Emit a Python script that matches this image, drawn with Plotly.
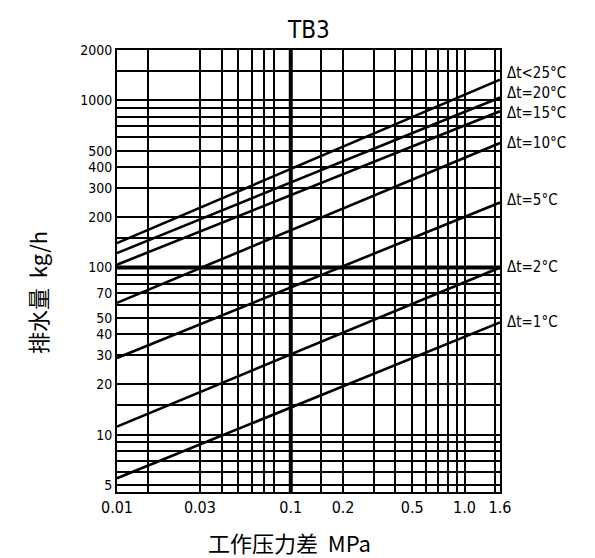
import math
import plotly.graph_objects as go

# ---- data ----
pressure = [0.01, 1.6]  # MPa, ends of each straight line on log-log axes
series_names = ["Δt<25°C", "Δt=20°C", "Δt=15°C", "Δt=10°C", "Δt=5°C", "Δt=2°C", "Δt=1°C"]
dt25 = [140, 1330]
dt20 = [122, 1040]
dt15 = [104, 860]
dt10 = [61.5, 556]
dt5 = [28.8, 245]
dt2 = [11.2, 100]
dt1 = [5.5, 47]
series_values = [dt25, dt20, dt15, dt10, dt5, dt2, dt1]
label_shift = [7, 4, -2, 0, 2, 1, 0]  # px nudges of the right-hand labels

x_grid = [0.01, 0.015, 0.03, 0.04, 0.05, 0.06, 0.07, 0.08, 0.1, 0.15, 0.2, 0.3,
          0.4, 0.5, 0.6, 0.7, 0.8, 0.9, 1.0, 1.5, 1.6]
x_labels = {0.01: "0.01", 0.03: "0.03", 0.1: "0.1", 0.2: "0.2", 0.5: "0.5",
            1.0: "1.0", 1.6: "1.6"}
y_grid = [5, 6, 7, 8, 9, 10, 15, 20, 30, 40, 50, 60, 70, 80, 90, 100, 150, 200,
          300, 400, 500, 600, 700, 800, 900, 1000, 1500, 2000]
y_labels = {5: "5", 10: "10", 20: "20", 30: "30", 40: "40", 50: "50", 70: "70",
            100: "100", 200: "200", 300: "300", 400: "400", 500: "500",
            1000: "1000", 2000: "2000"}
thick_x = [0.1]
thick_y = [100]

FONT = "DejaVu Sans Condensed, Liberation Sans Narrow, Arial, sans-serif"
CJK = "Noto Sans CJK SC, sans-serif"

fig = go.Figure()
for name, vals, sh in zip(series_names, series_values, label_shift):
    fig.add_trace(go.Scatter(x=pressure, y=vals, mode="lines", name=name,
                             line=dict(color="black", width=2.6),
                             showlegend=False, hoverinfo="skip"))
    # label at the right end of each line (y on a log axis takes log10)
    fig.add_annotation(x=1.0, y=math.log10(vals[-1]),
                       xref="paper", yref="y", text=name,
                       showarrow=False, xanchor="left", xshift=5, yshift=sh,
                       font=dict(family=FONT, size=15, color="black"))

for xv in thick_x:
    fig.add_shape(type="line", xref="x", yref="paper", x0=xv, x1=xv, y0=0, y1=1,
                  line=dict(color="black", width=4), layer="below")
for yv in thick_y:
    fig.add_shape(type="line", xref="paper", yref="y", x0=0, x1=1, y0=yv, y1=yv,
                  line=dict(color="black", width=4), layer="below")

fig.update_xaxes(type="log", range=[-2, math.log10(1.6)], tickmode="array",
                 tickvals=x_grid, ticktext=[x_labels.get(v, "") for v in x_grid],
                 showgrid=True, gridcolor="black", gridwidth=1.6,
                 showline=True, linecolor="black", linewidth=2, mirror=True,
                 ticks="", tickfont=dict(family=FONT, size=16, color="black"))
fig.update_yaxes(type="log", range=[0.658, 3.301], tickmode="array",
                 tickvals=y_grid, ticktext=[y_labels.get(v, "") for v in y_grid],
                 showgrid=True, gridcolor="black", gridwidth=1.6,
                 showline=True, linecolor="black", linewidth=2, mirror=True,
                 ticks="", tickfont=dict(family=FONT, size=14, color="black"))

fig.add_annotation(text="TB3", xref="paper", yref="paper", x=0.5, y=1.0,
                   yanchor="bottom", yshift=4, showarrow=False,
                   font=dict(family=FONT, size=24, color="black"))
fig.add_annotation(text="工作压力差  MPa", xref="paper", yref="paper", x=0.45, y=0,
                   yanchor="top", yshift=-32, showarrow=False,
                   font=dict(family=CJK, size=22, color="black"))
fig.add_annotation(text="排水量  kg/h", xref="paper", yref="paper", x=0, y=0.45,
                   xanchor="center", xshift=-80, textangle=-90, showarrow=False,
                   font=dict(family=CJK, size=22, color="black"))

# page body has an 8px margin, so the figure is drawn 8px smaller
fig.update_layout(width=587, height=550, paper_bgcolor="white", plot_bgcolor="white",
                  margin=dict(l=109, r=95, t=42, b=66))
fig.write_html("out.html")
